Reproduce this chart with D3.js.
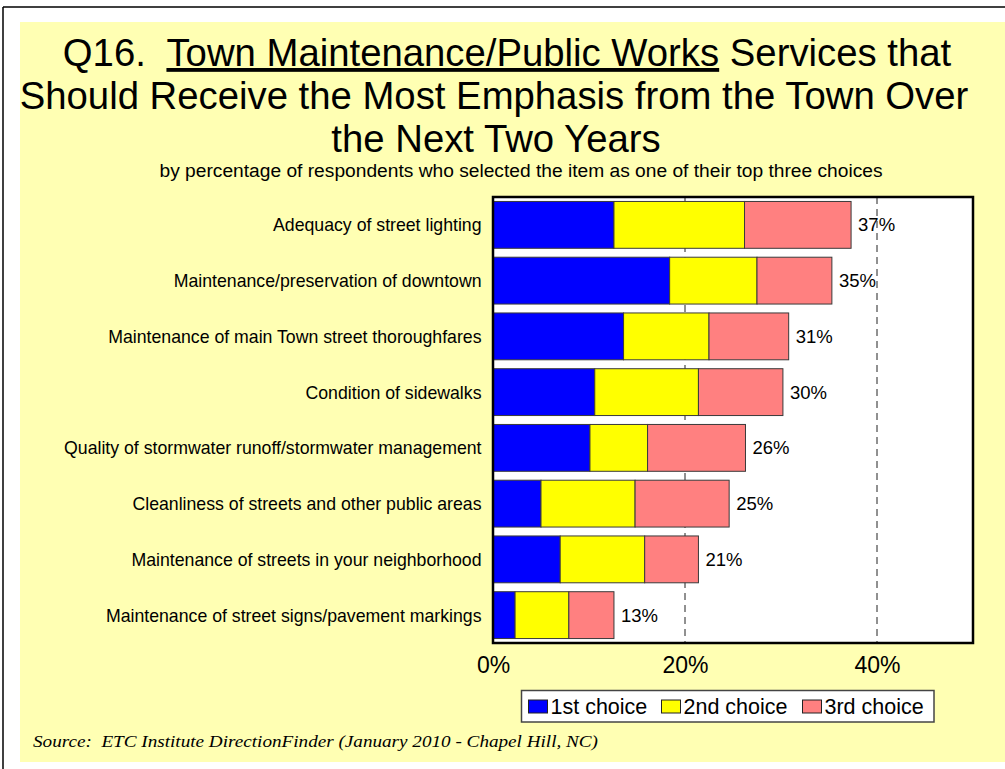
<!DOCTYPE html>
<html>
<head>
<meta charset="utf-8">
<script src="https://cdn.jsdelivr.net/npm/d3@7"></script>
<style>
  html, body { margin: 0; padding: 0; background: #ffffff; }
  svg { display: block; }
  text { font-family: "Liberation Sans", Arial, sans-serif; fill: #000; }
</style>
</head>
<body>
<svg id="chart" width="1005" height="769"></svg>
<script>
// Survey items, top to bottom
const categories = [
  "Adequacy of street lighting",
  "Maintenance/preservation of downtown",
  "Maintenance of main Town street thoroughfares",
  "Condition of sidewalks",
  "Quality of stormwater runoff/stormwater management",
  "Cleanliness of streets and other public areas",
  "Maintenance of streets in your neighborhood",
  "Maintenance of street signs/pavement markings"
];
// Percent of respondents choosing each item as 1st / 2nd / 3rd choice
const firstChoice  = [12.6, 18.4, 13.6, 10.6, 10.1, 5.0, 7.0, 2.3];
const secondChoice = [13.6,  9.1,  8.9, 10.8,  6.0, 9.8, 8.8, 5.6];
const thirdChoice  = [11.1,  7.8,  8.3,  8.8, 10.2, 9.8, 5.6, 4.7];
const seriesNames  = ["1st choice", "2nd choice", "3rd choice"];
const seriesColors = ["#0000ff", "#ffff00", "#ff8080"];
const xTicks = [0, 20, 40];

const svg = d3.select("#chart");

// Page frame and yellow panel
svg.append("rect").attr("x", 20).attr("y", 22).attr("width", 985).attr("height", 740).attr("fill", "#ffffb3");
svg.append("line").attr("x1", 3).attr("x2", 1005).attr("y1", 7).attr("y2", 7).attr("stroke", "#000").attr("stroke-width", 1.5);
svg.append("line").attr("x1", 3).attr("x2", 3).attr("y1", 7).attr("y2", 769).attr("stroke", "#000").attr("stroke-width", 1.5);

// Title, three centred lines
function titleLine(cx, y, build) {
  const t = svg.append("text")
    .attr("transform", `translate(${cx},${y})`)
    .attr("text-anchor", "middle")
    .style("font-size", "38.3px")
    .style("white-space", "pre");
  build(t);
  return t;
}
titleLine(507, 66, t => {
  t.append("tspan").text("Q16.  ");
  t.append("tspan").style("text-decoration", "underline").text("Town Maintenance/Public Works");
  t.append("tspan").text(" Services that");
});
titleLine(494, 109, t => t.text("Should Receive the Most Emphasis from the Town Over"));
titleLine(496, 152, t => t.text("the Next Two Years"));

svg.append("text")
  .attr("x", 521).attr("y", 176.5)
  .attr("text-anchor", "middle")
  .attr("textLength", 723).attr("lengthAdjust", "spacingAndGlyphs")
  .style("font-size", "18px")
  .text("by percentage of respondents who selected the item as one of their top three choices");

// Plot area
const plot = { left: 493, right: 973, top: 197, bottom: 643 };
const x = d3.scaleLinear().domain([0, 50]).range([plot.left, plot.right]);
const y = d3.scaleBand().domain(categories).range([plot.top, plot.bottom])
  .paddingInner(0.16).paddingOuter(0.08);

svg.append("rect")
  .attr("x", plot.left).attr("y", plot.top)
  .attr("width", plot.right - plot.left).attr("height", plot.bottom - plot.top)
  .attr("fill", "#ffffff");

// Dashed vertical gridlines
svg.append("g").selectAll("line")
  .data(xTicks.filter(d => d > 0))
  .join("line")
  .attr("x1", d => x(d)).attr("x2", d => x(d))
  .attr("y1", plot.top).attr("y2", plot.bottom)
  .attr("stroke", "#222").attr("stroke-width", 1)
  .attr("stroke-dasharray", "7,5");

// Stacked bars
const rows = categories.map((c, i) => ({
  category: c,
  "1st choice": firstChoice[i],
  "2nd choice": secondChoice[i],
  "3rd choice": thirdChoice[i]
}));
const stacked = d3.stack().keys(seriesNames)(rows);

svg.append("g").selectAll("g")
  .data(stacked)
  .join("g")
  .attr("fill", (d, i) => seriesColors[i])
  .selectAll("rect")
  .data(d => d)
  .join("rect")
  .attr("x", d => x(d[0]))
  .attr("y", d => y(d.data.category))
  .attr("width", d => x(d[1]) - x(d[0]))
  .attr("height", y.bandwidth())
  .attr("stroke", "#3a3a3a").attr("stroke-width", 1);

// Total labels
svg.append("g").selectAll("text")
  .data(rows)
  .join("text")
  .attr("x", d => x(d["1st choice"] + d["2nd choice"] + d["3rd choice"]) + 7)
  .attr("y", d => y(d.category) + y.bandwidth() / 2 + 6.5)
  .style("font-size", "18.5px")
  .text(d => Math.round(d["1st choice"] + d["2nd choice"] + d["3rd choice"]) + "%");

// Plot border
svg.append("rect")
  .attr("x", plot.left).attr("y", plot.top)
  .attr("width", plot.right - plot.left).attr("height", plot.bottom - plot.top)
  .attr("fill", "none").attr("stroke", "#000").attr("stroke-width", 2.5);

// Category labels
svg.append("g").selectAll("text")
  .data(categories)
  .join("text")
  .attr("x", 481.5)
  .attr("y", d => y(d) + y.bandwidth() / 2 + 6.5)
  .attr("text-anchor", "end")
  .style("font-size", "17.7px")
  .text(d => d);

// X axis labels
const xAxis = d3.axisBottom(x).tickValues(xTicks).tickFormat(d => d + "%").tickSize(0).tickPadding(0);
const gx = svg.append("g").attr("transform", `translate(0,${plot.bottom})`).call(xAxis);
gx.select(".domain").remove();
gx.selectAll("text")
  .attr("y", 30).attr("dy", null)
  .style("font-size", "23px")
  .style("font-family", "\"Liberation Sans\", Arial, sans-serif")
  .attr("fill", "#000");

// Legend
const legend = svg.append("g");
legend.append("rect")
  .attr("x", 521.5).attr("y", 690.5).attr("width", 412.5).attr("height", 31.5)
  .attr("fill", "#ffffff").attr("stroke", "#444").attr("stroke-width", 1.5);
const legendX = [528.5, 661.5, 802.5];
const item = legend.selectAll("g.item")
  .data(seriesNames)
  .join("g")
  .attr("class", "item")
  .attr("transform", (d, i) => `translate(${legendX[i]},0)`);
item.append("rect")
  .attr("x", 0).attr("y", 700).attr("width", 19).attr("height", 13)
  .attr("fill", (d, i) => seriesColors[i])
  .attr("stroke", "#222").attr("stroke-width", 1);
item.append("text")
  .attr("x", 22).attr("y", 714)
  .style("font-size", "21.5px")
  .text(d => d);

// Source note
svg.append("text")
  .attr("x", 33).attr("y", 747)
  .attr("textLength", 565).attr("lengthAdjust", "spacingAndGlyphs")
  .style("font-family", "\"Liberation Serif\", \"Times New Roman\", serif")
  .style("font-style", "italic")
  .style("font-size", "16px")
  .style("white-space", "pre")
  .text("Source:  ETC Institute DirectionFinder (January 2010 - Chapel Hill, NC)");
</script>
</body>
</html>
